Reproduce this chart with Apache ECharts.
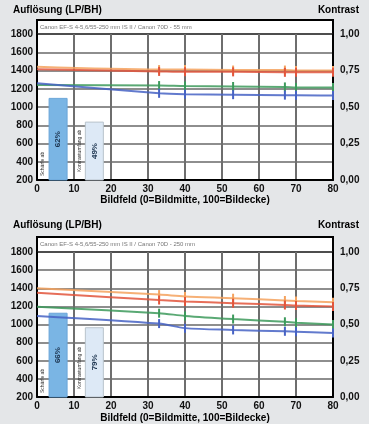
<!DOCTYPE html>
<html><head><meta charset="utf-8">
<script src="https://cdn.jsdelivr.net/npm/echarts@6/dist/echarts.min.js"></script>
<style>html,body{margin:0;padding:0;background:#e4e6e8}#c{width:369px;height:424px}</style>
</head><body><div id="c"></div>
<script>
// ---- data ----
const fieldPos = [0, 33, 40, 53, 67, 70, 80];
const xTicks = [0, 10, 20, 30, 40, 50, 60, 70, 80];
const yTicks = [200, 400, 600, 800, 1000, 1200, 1400, 1600, 1800];
const contrastTicks = ['0,00', '0,25', '0,50', '0,75', '1,00'];

const lens1 = 'Canon EF-S 4-5,6/55-250 mm IS II / Canon 70D - 55 mm';
const top_orange = [1440, 1410, 1410, 1405, 1405, 1400, 1400];
const top_red    = [1415, 1390, 1385, 1385, 1380, 1380, 1380];
const top_green  = [1240, 1235, 1230, 1225, 1220, 1215, 1215];
const top_blue   = [1260, 1150, 1140, 1135, 1130, 1130, 1125];
const top_bars = [[5.7, 1100, '62%'], [15.5, 840, '49%']];

const lens2 = 'Canon EF-S 4-5,6/55-250 mm IS II / Canon 70D - 250 mm';
const bot_orange = [1400, 1330, 1310, 1290, 1265, 1260, 1245];
const bot_red    = [1350, 1270, 1255, 1235, 1215, 1210, 1200];
const bot_green  = [1195, 1125, 1095, 1060, 1030, 1020, 1000];
const bot_blue   = [1095, 1010, 960, 940, 925, 920, 905];
const bot_bars = [[5.7, 1130, '66%'], [15.5, 970, '79%']];

const barNotes = ['Schärfe ab', 'Kontrastumfang ab'];

// ---- build ----
const chart = echarts.init(document.getElementById('c'), null, {renderer: 'canvas'});
const FONT = 'Liberation Sans, Arial, sans-serif';
const colors = {orange: '#f4a25e', red: '#e2553c', green: '#3d9a5c', blue: '#4763c4'};

const grids = [
  {left: 37, top: 34, width: 296, height: 146},
  {left: 37, top: 252, width: 296, height: 145}
];

function xAx(i) {
  return {gridIndex: i, type: 'value', min: 0, max: 80, interval: 10,
    axisLine: {show: true, lineStyle: {color: '#000', width: 2}},
    axisTick: {show: false},
    axisLabel: {color: '#111', fontSize: 10, fontWeight: 'bold', fontFamily: FONT, margin: 4, formatter: v => String(v)},
    splitLine: {show: true, lineStyle: {color: '#6e6e6e', width: 2}}};
}
function yAx(i) {
  return {gridIndex: i, type: 'value', min: 200, max: 1800, interval: 200,
    axisLine: {show: true, lineStyle: {color: '#000', width: 2}},
    axisTick: {show: false},
    axisLabel: {color: '#111', fontSize: 10, fontWeight: 'bold', fontFamily: FONT, margin: 4, formatter: v => String(v)},
    splitLine: {show: true, lineStyle: {color: '#686868', width: 1.6}}};
}
function kAx(i) {
  return {gridIndex: i, type: 'value', min: 0, max: 1, interval: 0.25, position: 'right',
    axisLine: {show: true, lineStyle: {color: '#000', width: 2}},
    axisTick: {show: false},
    axisLabel: {color: '#111', fontSize: 10, fontWeight: 'bold', fontFamily: FONT, margin: 7,
      formatter: v => contrastTicks[Math.round(v / 0.25)]},
    splitLine: {show: false}};
}

function lineSeries(i, data, color) {
  return {type: 'line', xAxisIndex: i, yAxisIndex: i * 2,
    data: fieldPos.map((x, k) => ({value: [x, data[k]], symbol: k === 0 ? 'none' : 'rect'})),
    smooth: 0.3, symbol: 'rect', symbolSize: [2, 9], showSymbol: true,
    itemStyle: {color: color}, lineStyle: {color: color, width: 2, opacity: 0.85}, z: 5, silent: true};
}
function barSeries(i, bars) {
  return {type: 'bar', xAxisIndex: i, yAxisIndex: i * 2, barWidth: 19, z: 3, silent: true,
    data: bars.map((b, k) => ({value: [b[0], b[1]], label: {formatter: b[2]},
      itemStyle: k === 0 ? {color: '#7ab5e4', borderColor: '#6aa5d8', borderWidth: 1}
                         : {color: '#dde9f6', borderColor: '#b9c3cc', borderWidth: 1}})),
    label: {show: true, position: 'inside', rotate: 90, color: '#1d3550', fontSize: 8, fontWeight: 'bold', fontFamily: FONT}};
}

const series = [];
[[top_orange, top_red, top_green, top_blue, top_bars], [bot_orange, bot_red, bot_green, bot_blue, bot_bars]].forEach((d, i) => {
  series.push(barSeries(i, d[4]));
  series.push(lineSeries(i, d[0], colors.orange));
  series.push(lineSeries(i, d[1], colors.red));
  series.push(lineSeries(i, d[2], colors.green));
  series.push(lineSeries(i, d[3], colors.blue));
});

const graphic = [];
[[20, 10, lens1, 200], [237, 225, lens2, 418]].forEach((g, i) => {
  const top = g[0], ty = g[1], xt = g[3];
  const gt = grids[i].top;
  graphic.push({type: 'rect', shape: {x: 37, y: top, width: 296, height: gt - top}, style: {fill: '#fff', stroke: '#000', lineWidth: 2}, z: 0});
  graphic.push({type: 'text', x: 40, y: (top + gt) / 2, style: {text: g[2], fill: '#777', fontSize: 6, fontFamily: FONT, verticalAlign: 'middle'}, z: 10});
  graphic.push({type: 'text', x: 13, y: ty, style: {text: 'Auflösung (LP/BH)', fill: '#000', fontSize: 10, fontWeight: 'bold', fontFamily: FONT, verticalAlign: 'middle'}, z: 10});
  graphic.push({type: 'text', x: 359, y: ty, style: {text: 'Kontrast', fill: '#000', fontSize: 10, fontWeight: 'bold', fontFamily: FONT, align: 'right', verticalAlign: 'middle'}, z: 10});
  graphic.push({type: 'text', x: 185, y: xt, style: {text: 'Bildfeld (0=Bildmitte, 100=Bildecke)', fill: '#000', fontSize: 10, fontWeight: 'bold', fontFamily: FONT, align: 'center', verticalAlign: 'middle'}, z: 10});
  const bottom = gt + grids[i].height;
  graphic.push({type: 'text', x: 43, y: bottom - 4, rotation: Math.PI / 2, style: {text: barNotes[0], fill: '#333', fontSize: 5, fontFamily: FONT, align: 'left', verticalAlign: 'middle'}, z: 10});
  graphic.push({type: 'text', x: 80, y: bottom - 8, rotation: Math.PI / 2, style: {text: barNotes[1], fill: '#333', fontSize: 5, fontFamily: FONT, align: 'left', verticalAlign: 'middle'}, z: 10});
});

chart.setOption({
  animation: false,
  backgroundColor: '#e4e6e8',
  grid: grids.map(g => Object.assign({show: true, backgroundColor: '#fff', borderWidth: 0, containLabel: false}, g)),
  xAxis: [xAx(0), xAx(1)],
  yAxis: [yAx(0), kAx(0), yAx(1), kAx(1)],
  series: series,
  graphic: graphic
});
</script></body></html>
